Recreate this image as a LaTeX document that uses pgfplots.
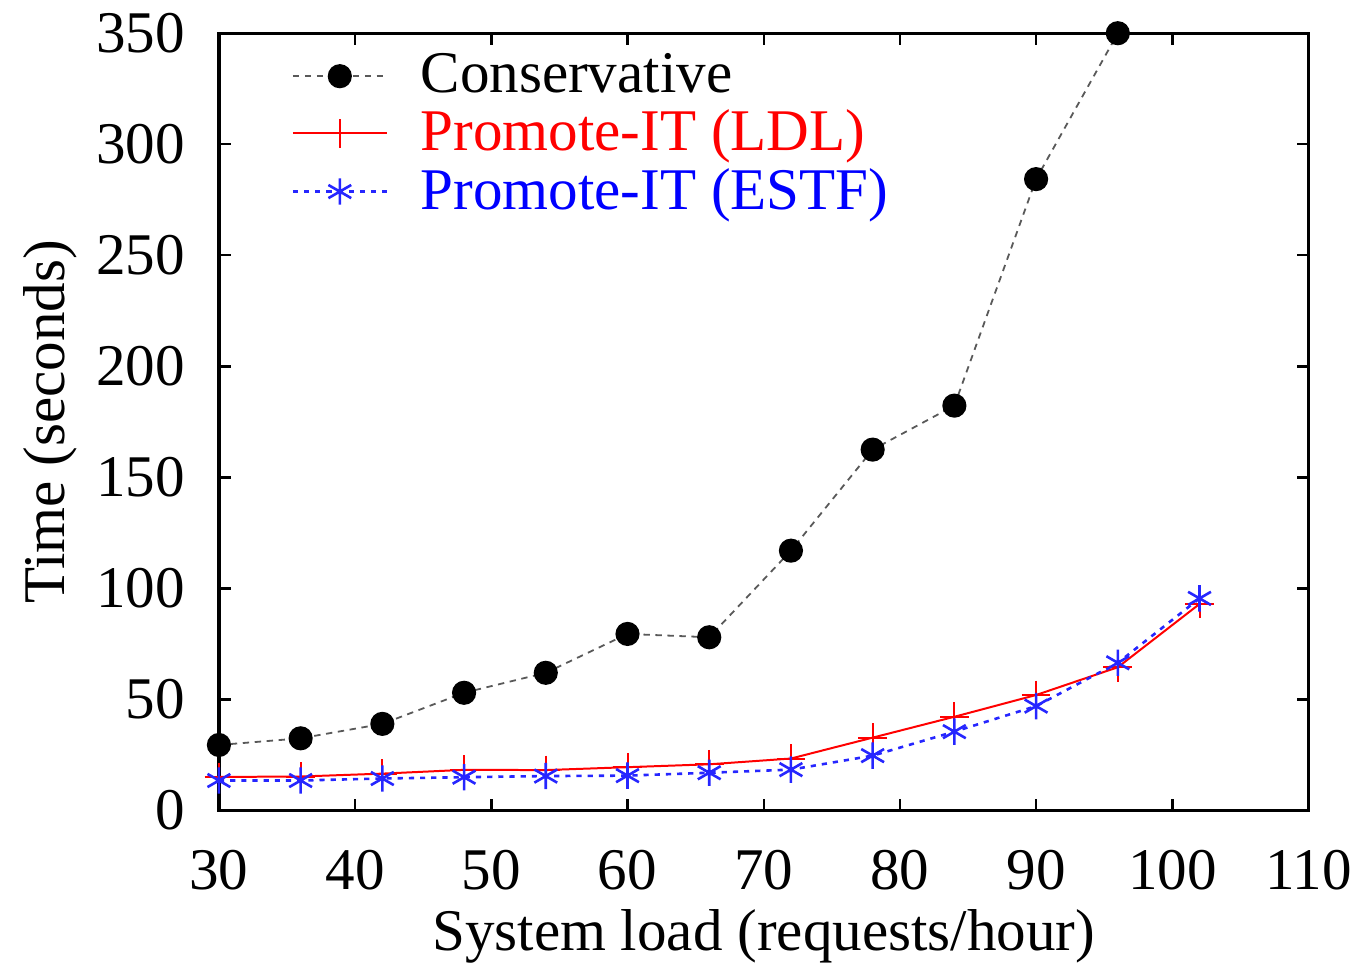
\documentclass[border=0pt]{standalone}
\usepackage{pgfplots}
\pgfplotsset{compat=1.18}
\usepackage{fontspec}
\setmainfont{Liberation Serif}
\begin{document}
\newcommand{\bigf}{\fontsize{14.8}{17}\selectfont}
\begin{tikzpicture}
\begin{axis}[
  scale only axis,
  width=273pt, height=194.75pt,
  xmin=30, xmax=110, ymin=0, ymax=350,
  xtick={30,40,...,110}, ytick={0,50,...,350},
  tick align=inside,
  major tick length=3pt,
  /pgf/number format/assume math mode=true,
  tick label style={font=\bigf},
  xticklabel style={yshift=-6.3pt},
  yticklabel style={xshift=-5pt},
  xlabel={System load (requests/hour)},
  ylabel={Time (seconds)},
  label style={font=\bigf},
  xlabel style={yshift=2pt},
  ylabel style={yshift=-2pt},
  axis line style={line width=0.8pt},
  every tick/.style={black, line width=0.6pt},
  legend cell align=left,
  legend style={draw=none, fill=none, font=\bigf, at={(rel axis cs:0.066,0.985)}, anchor=north west,
    row sep=-1.2pt, inner sep=0pt},
  legend image code/.code={
    \draw[#1, mark=none] (0pt,0pt) -- (23.5pt,0pt);
    \draw[#1, only marks] plot coordinates {(11.75pt,0pt)};
    \path[draw=none, fill=none] (0pt,0pt) -- (30pt,0pt);
  },
]
\addplot[black!65, dash pattern=on 1.6pt off 1.4pt, line width=0.45pt, mark=*, mark size=2.8pt,
  mark options={solid, fill=black, draw=black}] coordinates {
(30,29.5) (36,32.5) (42,39) (48,53) (54,62) (60,79.5) (66,78) (72,117) (78,162.5) (84,182.3) (90,284.3) (96,350)
};
\addlegendentry{\textcolor{black}{Conservative}}
\addplot[red, solid, line width=0.5pt, mark=+, mark size=3.6pt] coordinates {
(30,15.1) (36,15.3) (42,16.6) (48,18.3) (54,18.2) (60,19.5) (66,20.8) (72,23.4) (78,32.8) (84,42.2) (90,52) (96,64.5) (102,93)
};
\addlegendentry{\textcolor{red}{Promote-IT (LDL)}}
\addplot[blue!85, dash pattern=on 1.3pt off 1.5pt, line width=0.65pt, mark=asterisk, mark size=3.3pt,
  mark options={solid}] coordinates {
(30,13.5) (36,13.5) (42,14.4) (48,15) (54,15.5) (60,15.7) (66,17) (72,18.4) (78,24.7) (84,35.5) (90,47) (96,66.5) (102,95.5)
};
\addlegendentry{\textcolor{blue}{Promote-IT (ESTF)}}
\end{axis}
\end{tikzpicture}
\end{document}
